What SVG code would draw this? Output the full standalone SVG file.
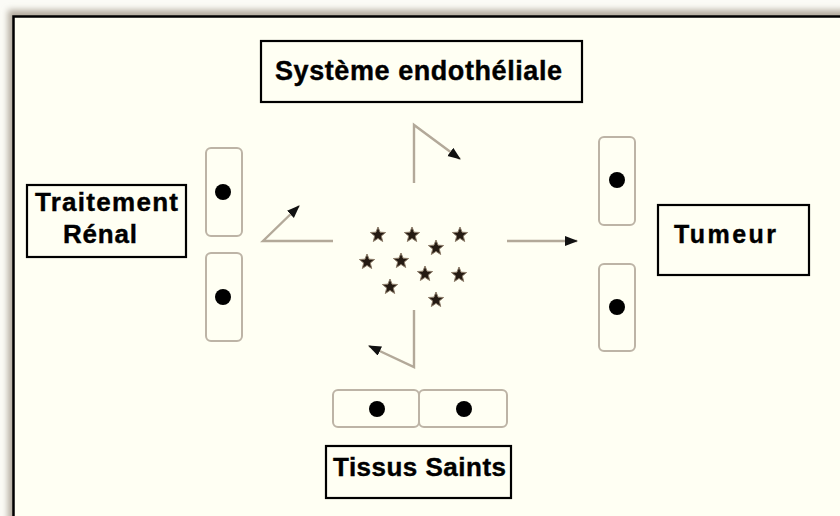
<svg xmlns="http://www.w3.org/2000/svg" width="840" height="516" viewBox="0 0 840 516">
<style>
.box{fill:#FFFFF3;stroke:#000;stroke-width:2.2}
.lbl{font-family:"Liberation Sans",Arial,sans-serif;font-weight:bold;fill:#000;stroke:#000;stroke-width:0.4}
.cell{fill:#FFFFF3;stroke:#bdb4a6;stroke-width:2}
.dot{fill:#000}
.con{fill:none;stroke:#b3a999;stroke-width:2.4}
</style>
<defs>
<filter id="sh" x="-5%" y="-5%" width="110%" height="110%"><feGaussianBlur stdDeviation="3"/></filter>
<marker id="ah" markerUnits="userSpaceOnUse" markerWidth="14" markerHeight="12" refX="12" refY="5" orient="auto"><path d="M0,0 L13,5 L0,10 z" fill="#111"/></marker>
<polygon id="star" points="0,-8 2.1,-2.8 7.6,-2.5 3.3,1 4.7,6.5 0,3.4 -4.7,6.5 -3.3,1 -7.6,-2.5 -2.1,-2.8" fill="#241a12" stroke="#8c7c69" stroke-width="1"/>
</defs>
<rect width="840" height="516" fill="#FBFBF6"/>
<rect x="8" y="10" width="850" height="530" fill="#b3ab9e" filter="url(#sh)"/>
<rect x="13.5" y="16.5" width="840" height="520" fill="#FFFFF3" stroke="#000" stroke-width="2.5"/>

<g id="connectors">
<path class="con" d="M414,183 V125 L460,159" marker-end="url(#ah)"/>
<path class="con" d="M507,241 H577" marker-end="url(#ah)"/>
<path class="con" d="M414,310 V367 L369,346" marker-end="url(#ah)"/>
<path class="con" d="M333,241 H263 L299,206" marker-end="url(#ah)"/>
</g>

<g id="systeme">
<rect class="box" x="261" y="41" width="321" height="61"/>
<text class="lbl" x="275" y="80" font-size="27" textLength="287" lengthAdjust="spacing">Système endothéliale</text>
</g>
<g id="traitement">
<rect class="box" x="27" y="185" width="159" height="72"/>
<text class="lbl" x="35" y="211" font-size="26" textLength="143" lengthAdjust="spacing">Traitement</text>
<text class="lbl" x="63" y="243" font-size="26" textLength="74" lengthAdjust="spacing">Rénal</text>
</g>
<g id="tumeur">
<rect class="box" x="658" y="205" width="151" height="70"/>
<text class="lbl" x="674" y="243" font-size="25" textLength="102" lengthAdjust="spacing">Tumeur</text>
</g>
<g id="tissus">
<rect class="box" x="326" y="446" width="185" height="52"/>
<text class="lbl" x="333" y="476" font-size="26" textLength="173" lengthAdjust="spacing">Tissus Saints</text>
</g>

<g id="cells-left">
<rect class="cell" x="206" y="148" width="36" height="88" rx="5"/>
<circle class="dot" cx="223" cy="192" r="8"/>
<rect class="cell" x="206" y="253" width="36" height="88" rx="5"/>
<circle class="dot" cx="223" cy="297" r="8"/>
</g>
<g id="cells-right">
<rect class="cell" x="599" y="137" width="36" height="88" rx="5"/>
<circle class="dot" cx="617" cy="180" r="8"/>
<rect class="cell" x="599" y="264" width="36" height="87" rx="5"/>
<circle class="dot" cx="617" cy="307" r="8"/>
</g>
<g id="cells-bottom">
<rect class="cell" x="333" y="390" width="86" height="37" rx="5"/>
<circle class="dot" cx="377" cy="409" r="8"/>
<rect class="cell" x="419" y="390" width="88" height="37" rx="5"/>
<circle class="dot" cx="464" cy="409" r="8"/>
</g>

<g id="molecules">
<use href="#star" x="378" y="235"/>
<use href="#star" x="412" y="235"/>
<use href="#star" x="460" y="235"/>
<use href="#star" x="436" y="248"/>
<use href="#star" x="367" y="262"/>
<use href="#star" x="401" y="261"/>
<use href="#star" x="425" y="274"/>
<use href="#star" x="459" y="275"/>
<use href="#star" x="390" y="287"/>
<use href="#star" x="436" y="300"/>
</g>
</svg>
